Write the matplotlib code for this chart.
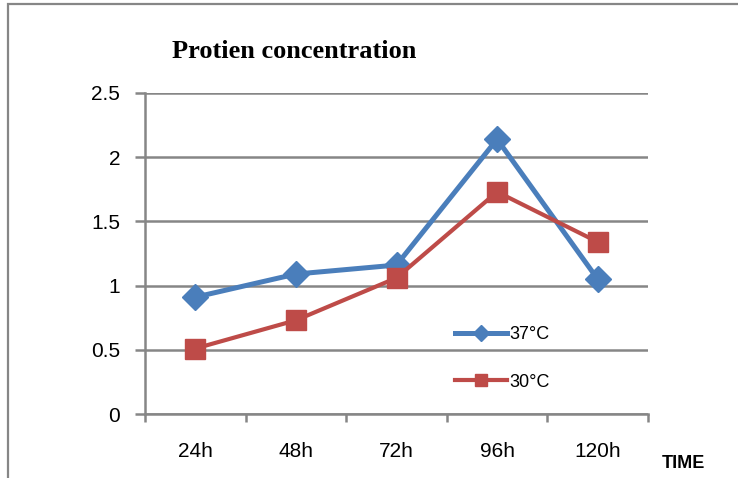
import matplotlib
matplotlib.use('Agg')
import matplotlib.pyplot as plt
from matplotlib.patches import Rectangle

# data
times = ['24h', '48h', '72h', '96h', '120h']
temp37 = [0.91, 1.09, 1.16, 2.14, 1.05]
temp30 = [0.51, 0.73, 1.06, 1.73, 1.34]

sans = ['Liberation Sans', 'DejaVu Sans']
grey = '#868686'
blue = '#4A7EBB'
red = '#BE4B48'

W, H = 738, 478
fig = plt.figure(figsize=(W / 100, H / 100), dpi=100)

# outer chart frame (cut off on right and bottom)
fig.patches.append(Rectangle((8 / W, -0.1), 1.2, 1.1 - 4 / H, transform=fig.transFigure,
                             fill=False, edgecolor=grey, linewidth=1.6))

ax = fig.add_axes([145 / W, (H - 414) / H, (648 - 145) / W, (414 - 93) / H])

x = list(range(len(times)))
ax.plot(x, temp37, color=blue, linewidth=3.6, marker='D', markersize=13, label='37°C', zorder=3)
ax.plot(x, temp30, color=red, linewidth=3.0, marker='s', markersize=14, label='30°C', zorder=4)

ax.set_xlim(-0.5, 4.5)
ax.set_ylim(0, 2.5)
ax.set_yticks([0, 0.5, 1, 1.5, 2, 2.5])
ax.set_yticklabels(['0', '0.5', '1', '1.5', '2', '2.5'])
ax.yaxis.grid(True, color=grey, linewidth=1.8)
ax.set_axisbelow(True)

ax.set_xticks([i - 0.5 for i in range(len(times) + 1)])
ax.set_xticklabels([])
ax.set_xticks(x, minor=True)
ax.set_xticklabels(times, minor=True)
ax.tick_params(axis='x', which='major', length=6, width=1.8, color=grey, direction='out')
ax.tick_params(axis='x', which='minor', length=0, pad=20)
ax.tick_params(axis='y', length=7, width=1.8, color=grey, pad=11)

for lab in ax.get_xticklabels(minor=True) + ax.get_yticklabels():
    lab.set_fontfamily(sans)
    lab.set_fontsize(15)

for s in ['top', 'right']:
    ax.spines[s].set_visible(False)
for s in ['left', 'bottom']:
    ax.spines[s].set_color(grey)
    ax.spines[s].set_linewidth(1.8)

leg = ax.legend(loc='upper left', bbox_to_anchor=(446 / W, (H - 317) / H),
                bbox_transform=fig.transFigure, frameon=False, borderpad=0,
                handlelength=2.9, handletextpad=0.1, labelspacing=1.7,
                markerscale=0.6, prop={'family': sans, 'size': 13})

fig.text(172 / W, 1 - 52 / H, 'Protien concentration', family=['Liberation Serif', 'DejaVu Serif'],
         fontweight='bold', fontsize=19, va='center', ha='left')
fig.text(662 / W, 1 - 463 / H, 'TIME', family=sans, fontweight='bold', fontsize=13,
         va='center', ha='left')

fig.savefig('out.png', dpi=100)
